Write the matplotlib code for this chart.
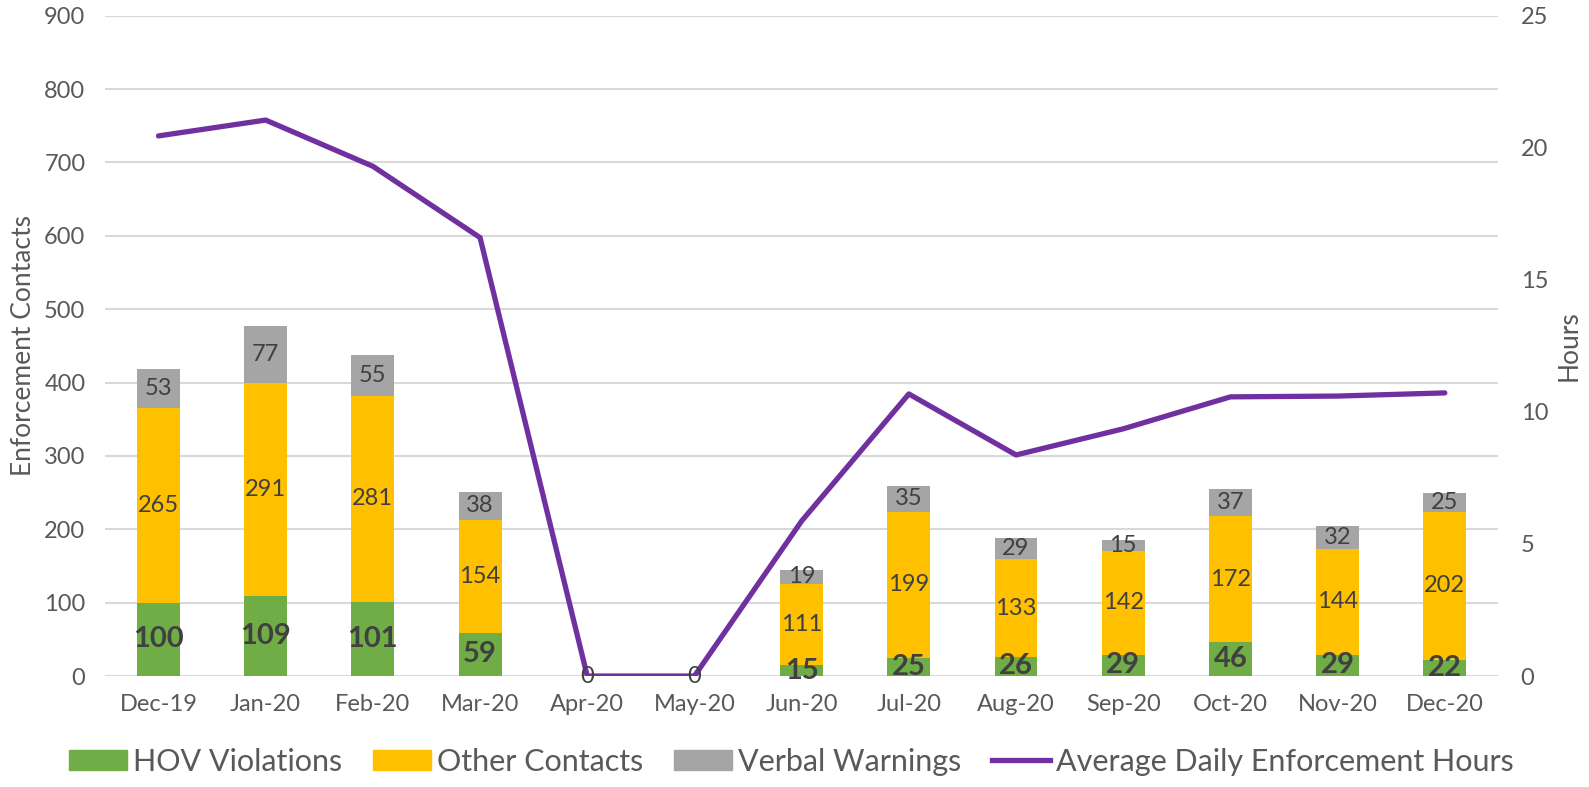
import numpy as np
import matplotlib.pyplot as plt
from matplotlib.patches import Patch
from matplotlib.lines import Line2D

plt.rcParams['font.family'] = ['Lato', 'DejaVu Sans']

months = ["Dec-19", "Jan-20", "Feb-20", "Mar-20", "Apr-20", "May-20", "Jun-20",
          "Jul-20", "Aug-20", "Sep-20", "Oct-20", "Nov-20", "Dec-20"]
hov = [100, 109, 101, 59, 0, 0, 15, 25, 26, 29, 46, 29, 22]
other = [265, 291, 281, 154, 0, 0, 111, 199, 133, 142, 172, 144, 202]
verbal = [53, 77, 55, 38, 0, 0, 19, 35, 29, 15, 37, 32, 25]
hours = [20.45, 21.05, 19.3, 16.6, 0, 0, 5.87, 10.68, 8.37, 9.36, 10.57, 10.6, 10.72]

GREEN = "#70AD47"
YELLOW = "#FFC000"
GRAY = "#A5A5A5"
PURPLE = "#7030A0"
TXT = "#595959"
LBL = "#404040"

fig = plt.figure(figsize=(15.89, 7.87), dpi=100)
ax = fig.add_axes([0.066, 0.141, 0.877, 0.839])
ax2 = ax.twinx()

x = np.arange(len(months))
hov = np.array(hov)
other = np.array(other)
verbal = np.array(verbal)
w = 0.4

ax.bar(x, hov, w, color=GREEN, zorder=2)
ax.bar(x, other, w, bottom=hov, color=YELLOW, zorder=2)
ax.bar(x, verbal, w, bottom=hov + other, color=GRAY, zorder=2)

# data labels
for i in range(len(months)):
    if hov[i] + other[i] + verbal[i] == 0:
        continue
    ax.text(x[i], hov[i] / 2, str(hov[i]), ha='center', va='center',
            fontsize=21, fontweight='bold', color=LBL, zorder=5)
    ax.text(x[i], hov[i] + other[i] / 2, str(other[i]), ha='center', va='center',
            fontsize=17, color=LBL, zorder=5)
    ax.text(x[i], hov[i] + other[i] + verbal[i] / 2, str(verbal[i]), ha='center',
            va='center', fontsize=17, color=LBL, zorder=5)

ax.set_ylim(0, 900)
ax.set_yticks(range(0, 901, 100))
ax.set_xlim(-0.5, 12.5)
ax.set_xticks(x)
ax.set_xticklabels(months)
ax.grid(axis='y', color='#D9D9D9', linewidth=1.5, zorder=0)
ax.set_axisbelow(True)
for s in ax.spines.values():
    s.set_visible(False)
ax.tick_params(axis='both', length=0, labelsize=17, labelcolor=TXT)
ax.tick_params(axis='y', pad=14)
ax.tick_params(axis='x', pad=13)
ax.set_ylabel("Enforcement Contacts", fontsize=19, color=TXT, labelpad=6)

ax2.plot(x, hours, color=PURPLE, linewidth=3.8, solid_capstyle='round', zorder=3)
for i in range(len(months)):
    if hov[i] + other[i] + verbal[i] == 0:
        ax2.text(x[i], 0, "0", ha='center', va='center', fontsize=17,
                 color=LBL, zorder=6)
ax2.set_ylim(0, 25)
ax2.set_yticks(range(0, 26, 5))
for s in ax2.spines.values():
    s.set_visible(False)
ax2.tick_params(axis='y', length=0, labelsize=17, labelcolor=TXT, pad=16)
ax2.set_ylabel("Hours", fontsize=19, color=TXT, labelpad=6)

handles = [Patch(color=GREEN), Patch(color=YELLOW), Patch(color=GRAY),
           Line2D([0], [0], color=PURPLE, linewidth=3.8)]
names = ["HOV Violations", "Other Contacts", "Verbal Warnings",
         "Average Daily Enforcement Hours"]
fig.legend(handles, names, loc='center', bbox_to_anchor=(0.498, 0.032), ncol=4,
           frameon=False, fontsize=22, handlelength=1.9, handleheight=0.65,
           handletextpad=0.2, columnspacing=1.0, labelcolor=TXT)

fig.savefig("out.png", dpi=100)
